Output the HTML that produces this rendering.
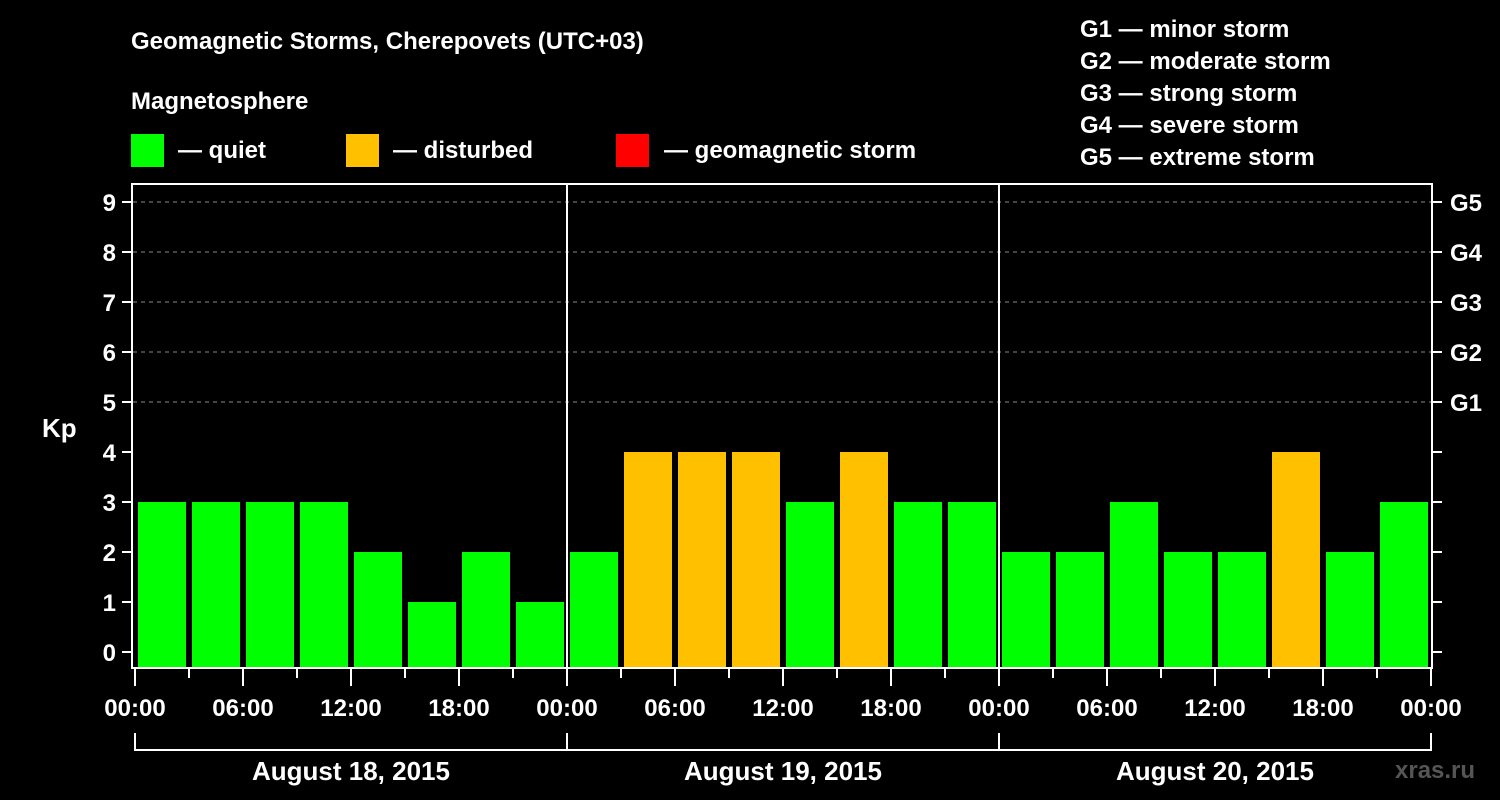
<!DOCTYPE html>
<html><head><meta charset="utf-8"><style>
body{margin:0;background:#000;width:1500px;height:800px;overflow:hidden}
svg{display:block;font-family:"Liberation Sans",sans-serif;font-weight:bold}
</style></head><body>
<svg id="c" width="1500" height="800">
<text x="131" y="49" fill="#fff" font-size="24">Geomagnetic Storms, Cherepovets (UTC+03)</text>
<text x="131" y="109" fill="#fff" font-size="24">Magnetosphere</text>
<g><rect x="131" y="134" width="33" height="33" fill="#00ff00"/><text x="178" y="158" fill="#fff" font-size="24">— quiet</text></g>
<g><rect x="346" y="134" width="33" height="33" fill="#ffc000"/><text x="393" y="158" fill="#fff" font-size="24">— disturbed</text></g>
<g><rect x="616" y="134" width="33" height="33" fill="#ff0000"/><text x="664" y="158" fill="#fff" font-size="24">— geomagnetic storm</text></g>
<g fill="#fff" font-size="24">
<text x="1080" y="37">G1 — minor storm</text><text x="1080" y="69">G2 — moderate storm</text><text x="1080" y="101">G3 — strong storm</text><text x="1080" y="133">G4 — severe storm</text><text x="1080" y="165">G5 — extreme storm</text></g>
<text x="42" y="437" fill="#fff" font-size="26">Kp</text>
<text x="1395" y="778" fill="#555" font-size="24">xras.ru</text>
<g id="grid"></g><g id="bars"></g><g id="axes"></g>
</svg>
<script>
const kpValues=[3,3,3,3,2,1,2,1, 2,4,4,4,3,4,3,3, 2,2,3,2,2,4,2,3];
const dayLabels=["August 18, 2015","August 19, 2015","August 20, 2015"];
const hourLabels=["00:00","06:00","12:00","18:00"];
const gLabels=["G1","G2","G3","G4","G5"];
const NS="http://www.w3.org/2000/svg";
const x0=135,dayW=432,slotW=54;
const yS=v=>652-50*v;
const xS=i=>x0+i*slotW;
function mk(t,a,p){const e=document.createElementNS(NS,t);for(const k in a)e.setAttribute(k,a[k]);p.appendChild(e);return e;}
const grid=document.getElementById('grid'),bars=document.getElementById('bars'),axes=document.getElementById('axes');
for(let v=5;v<=9;v++){const l=mk('line',{x1:133,x2:1431,y1:yS(v),y2:yS(v),stroke:'#888','stroke-dasharray':'4,4'},grid);

}
kpValues.forEach((v,i)=>{const r=mk('rect',{x:xS(i)+3,y:yS(v),width:48,height:668-yS(v),fill:v>=5?'#ff0000':v>=4?'#ffc000':'#00ff00'},bars);

});
const f=mk('rect',{x:132,y:184,width:1300,height:484,fill:'none',stroke:'#fff','stroke-width':2},axes);


for(let d=1;d<dayLabels.length;d++){const l=mk('line',{x1:x0+d*dayW,x2:x0+d*dayW,y1:184,y2:668,stroke:'#fff','stroke-width':2},axes);

}
for(let v=0;v<=9;v++){mk('line',{x1:122,x2:132,y1:yS(v),y2:yS(v),stroke:'#fff','stroke-width':2},axes);
mk('line',{x1:1432,x2:1442,y1:yS(v),y2:yS(v),stroke:'#fff','stroke-width':2},axes);
const t=mk('text',{x:116,y:yS(v)+9,fill:'#fff','font-size':24,'text-anchor':'end'},axes);t.textContent=v;


if(v>=5){const g=mk('text',{x:1450,y:yS(v)+9,fill:'#fff','font-size':24},axes);g.textContent=gLabels[v-5];

}}
for(let i=0;i<=kpValues.length;i++){const x=xS(i),major=i%2==0;
mk('line',{x1:x,x2:x,y1:669,y2:major?686:678,stroke:'#fff','stroke-width':2},axes);
if(major){const t=mk('text',{x:x,y:716,fill:'#fff','font-size':24,'text-anchor':'middle'},axes);t.textContent=hourLabels[(i/2)%4];

}}
dayLabels.forEach((d,k)=>{const a=x0+k*dayW;
mk('path',{d:`M${a},733V750H${a+dayW}V733`,fill:'none',stroke:'#fff','stroke-width':2},axes);
const t=mk('text',{x:a+dayW/2,y:780,fill:'#fff','font-size':26,'text-anchor':'middle'},axes);t.textContent=d;

});
</script>
</body></html>
